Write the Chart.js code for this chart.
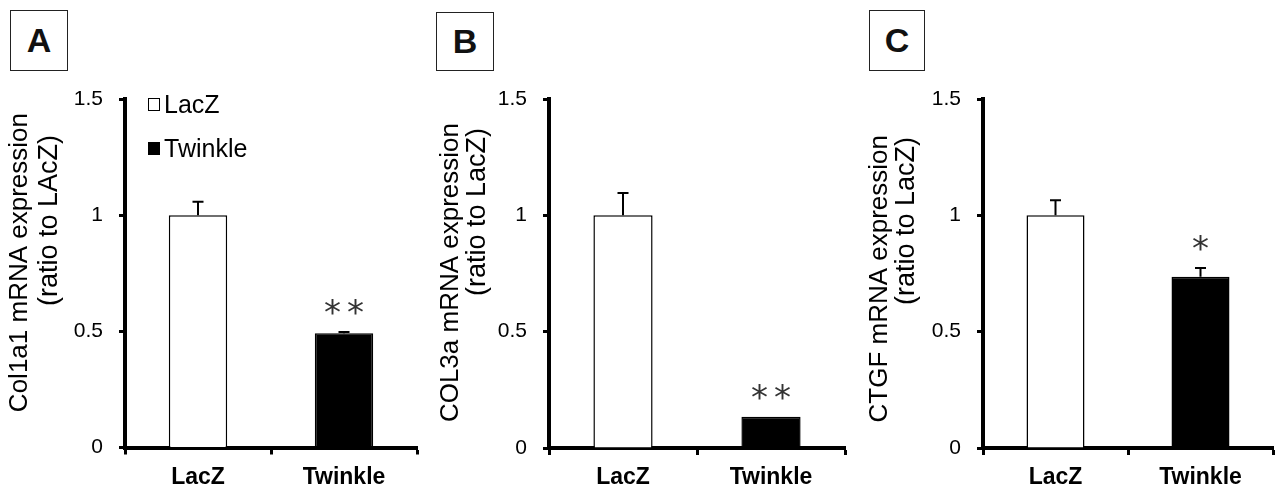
<!DOCTYPE html>
<html>
<head>
<meta charset="utf-8">
<script src="https://cdn.jsdelivr.net/npm/chart.js@4.4.1/dist/chart.umd.min.js"></script>
<style>
  body { margin: 0; background: #fff; width: 1278px; height: 490px; position: relative; overflow: hidden; }
  canvas { position: absolute; top: 0; }
  .tag {
    position: absolute; box-sizing: border-box; border: 1.5px solid #222; color: #111;
    font: bold 34px "Liberation Sans", Arial, sans-serif;
    display: flex; align-items: center; justify-content: center;
  }
</style>
</head>
<body>
<div class="tag" style="left:10px;top:10px;width:58px;height:61px">A</div>
<div class="tag" style="left:436px;top:12px;width:58px;height:59px">B</div>
<div class="tag" style="left:869px;top:10px;width:56px;height:61px">C</div>
<canvas id="chartA" width="426" height="490" style="left:0px"></canvas>
<canvas id="chartB" width="426" height="490" style="left:426px"></canvas>
<canvas id="chartC" width="426" height="490" style="left:852px"></canvas>
<script>
let categories = ['LacZ', 'Twinkle'];
let yTicks = [0, 0.5, 1, 1.5];

// Mean values and upper error (SEM) per group.
let col1a1Values = [1.0, 0.492];
let col1a1Errors = [0.058, 0.005];
let col1a1Marks = ['', '**'];

let col3aValues = [1.0, 0.134];
let col3aErrors = [0.096, 0];
let col3aMarks = ['', '**'];

let ctgfValues = [1.0, 0.736];
let ctgfErrors = [0.065, 0.038];
let ctgfMarks = ['', '*'];

let barColors = ['#ffffff', '#000000'];
let legendLabels = ['LacZ', 'Twinkle'];

let sansFont = '"Liberation Sans", Arial, sans-serif';

let panels = [
  {id: 'chartA', values: col1a1Values, errors: col1a1Errors, marks: col1a1Marks,
   title: ['Col1a1 mRNA expression', '(ratio to LAcZ)'],
   area: {left: 125, right: 417, top: 99, bottom: 447.5},
   titleX: [27, 57], titleEnd: [113, 135], legend: true},
  {id: 'chartB', values: col3aValues, errors: col3aErrors, marks: col3aMarks,
   title: ['COL3a mRNA expression', '(ratio to LacZ)'],
   area: {left: 123, right: 419, top: 99, bottom: 448},
   titleX: [32, 59], titleEnd: [123, 128], legend: false},
  {id: 'chartC', values: ctgfValues, errors: ctgfErrors, marks: ctgfMarks,
   title: ['CTGF mRNA expression', '(ratio to LacZ)'],
   area: {left: 131, right: 421, top: 99, bottom: 448},
   titleX: [35, 62], titleEnd: [135, 137], legend: false},
];

// Draws error bars, significance stars, the rotated y title and the legend.
let extrasPlugin = {
  id: 'extras',
  afterDatasetsDraw(chart, args, opts) {
    let ctx = chart.ctx;
    let panel = opts.panel;
    let yScale = chart.scales.y;
    let bars = chart.getDatasetMeta(0).data;

    ctx.save();
    bars.forEach((bar, i) => {
      let err = panel.errors[i];
      let top = yScale.getPixelForValue(panel.values[i] + err);
      if (err > 0) {
        ctx.strokeStyle = '#000';
        ctx.lineWidth = 2;
        ctx.beginPath();
        ctx.moveTo(bar.x, bar.y);
        ctx.lineTo(bar.x, top);
        ctx.moveTo(bar.x - 5.5, top);
        ctx.lineTo(bar.x + 5.5, top);
        ctx.stroke();
      }
      let mark = panel.marks[i];
      if (mark) {
        ctx.fillStyle = '#333';
        ctx.font = '34px "DejaVu Sans"';
        ctx.textAlign = 'center';
        ctx.textBaseline = 'alphabetic';
        let cy = top - 27;
        for (let k = 0; k < mark.length; k++) {
          let cx = bar.x + (k - (mark.length - 1) / 2) * 23;
          ctx.fillText('*', cx, cy + 0.55 * 34);
        }
      }
    });

    // Rotated two-line y axis title.
    ctx.fillStyle = '#000';
    ctx.textAlign = 'right';
    ctx.textBaseline = 'alphabetic';
    panel.title.forEach((line, j) => {
      ctx.save();
      ctx.translate(panel.titleX[j], panel.titleEnd[j]);
      ctx.rotate(-Math.PI / 2);
      ctx.font = (j === 0 ? '26px ' : '27px ') + sansFont;
      ctx.fillText(line, 0, 0);
      ctx.restore();
    });

    if (panel.legend) {
      let area = chart.chartArea;
      ctx.font = '25px ' + sansFont;
      ctx.textAlign = 'left';
      legendLabels.forEach((label, i) => {
        let y = area.top - 1 + i * 44;
        ctx.fillStyle = barColors[i];
        ctx.fillRect(area.left + 23, y, 12, 13);
        ctx.strokeStyle = '#000';
        ctx.lineWidth = 1;
        ctx.strokeRect(area.left + 23.5, y + 0.5, 11, 12);
        ctx.fillStyle = '#000';
        ctx.fillText(label, area.left + 39, y + 15);
      });
    }
    ctx.restore();
  }
};

panels.forEach((panel) => {
  let canvas = document.getElementById(panel.id);
  let area = panel.area;
  new Chart(canvas, {
    type: 'bar',
    data: {
      labels: categories,
      datasets: [{
        data: panel.values,
        backgroundColor: barColors,
        borderColor: '#000',
        borderWidth: 1.5,
        barPercentage: 0.4,
        categoryPercentage: 1
      }]
    },
    plugins: [extrasPlugin],
    options: {
      responsive: false,
      animation: false,
      layout: {padding: {top: area.top, right: canvas.width - area.right, bottom: 0, left: 0}},
      plugins: {
        legend: {display: false},
        tooltip: {enabled: false},
        extras: {panel: panel}
      },
      scales: {
        x: {
          grid: {offset: true, drawOnChartArea: false, drawTicks: true, tickLength: 7, tickWidth: 3, color: '#000'},
          border: {display: true, color: '#000', width: 4},
          ticks: {color: '#000', padding: 9, font: {family: sansFont, size: 23, weight: 'bold'}},
          afterFit: (scale) => { scale.height = canvas.height - area.bottom; }
        },
        y: {
          min: 0,
          max: 1.5,
          afterBuildTicks: (scale) => { scale.ticks = yTicks.map(v => ({value: v})); },
          grid: {drawOnChartArea: false, drawTicks: true, tickLength: 6, tickWidth: 3, color: '#000'},
          border: {display: true, color: '#000', width: 4},
          ticks: {
            color: '#000', padding: 16, font: {family: sansFont, size: 21},
            callback: (value) => String(value)
          },
          afterFit: (scale) => { scale.width = area.left; }
        }
      }
    }
  });
});
</script>
</body>
</html>
